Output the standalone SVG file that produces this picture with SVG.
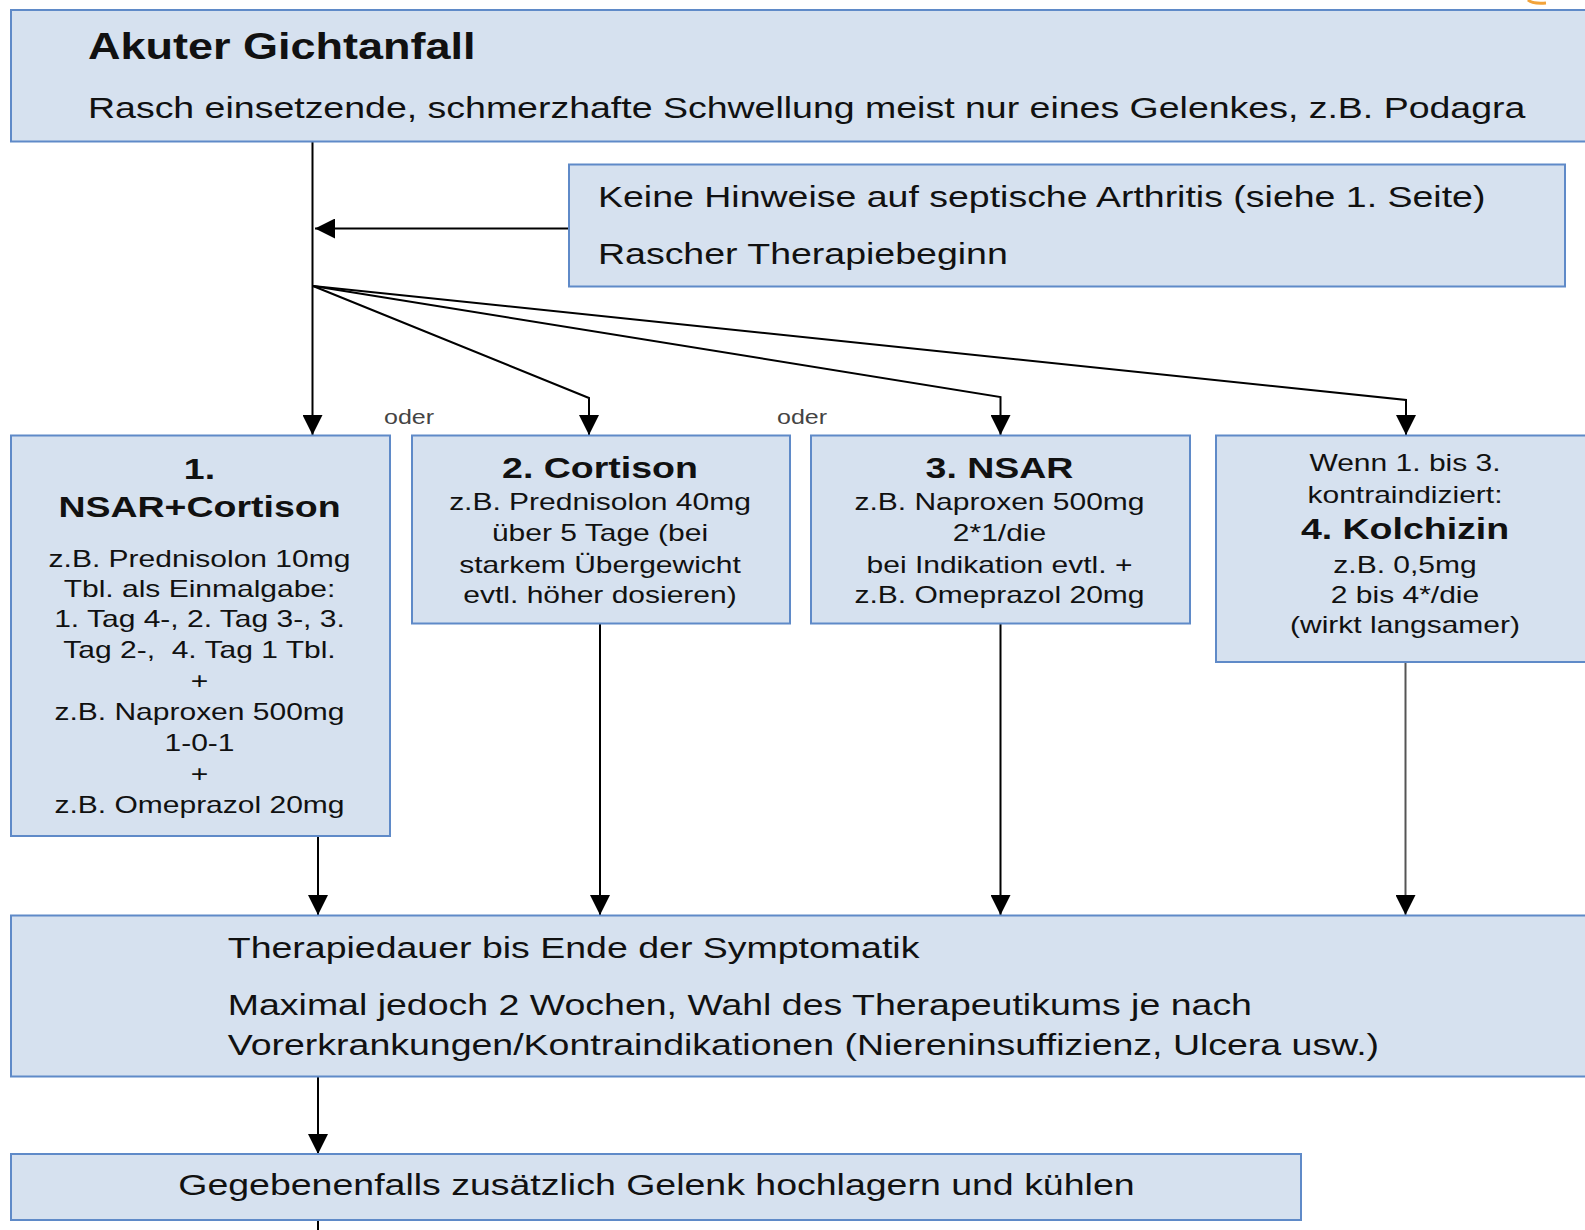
<svg xmlns="http://www.w3.org/2000/svg" width="1585" height="1230" viewBox="0 0 1585 1230">
<style>
.box{fill:#D6E1EF;stroke:#5F8AC8;stroke-width:2}
.t{font-family:"Liberation Sans",Arial,sans-serif;fill:#111}
.r24{font-size:24px}
.r30{font-size:30px}
.b30{font-size:30px;font-weight:bold}
.b36{font-size:36px;font-weight:bold}
.c{text-anchor:middle}
.oder{font-family:"Liberation Sans",Arial,sans-serif;font-size:20px;fill:#444}
.ln{stroke:#000;stroke-width:2;fill:none}
.lg{stroke:#555;stroke-width:2;fill:none}
</style>
<defs>
<marker id="ah" viewBox="0 0 20 20" refX="20" refY="10" markerWidth="20" markerHeight="20" markerUnits="userSpaceOnUse" orient="auto">
<path d="M0,0 L20,10 L0,20 z" fill="#000"/>
</marker>
</defs>
<rect width="1585" height="1230" fill="#fff"/>
<path d="M1528,0 Q1532,4 1546,3" stroke="#F2A33A" stroke-width="3" fill="none"/>

<g id="connectors">
<line class="ln" x1="312.5" y1="142" x2="312.5" y2="435" marker-end="url(#ah)"/>
<line class="ln" x1="569" y1="228.5" x2="315" y2="228.5" marker-end="url(#ah)"/>
<polyline class="ln" points="313,286 589,398 589,435" marker-end="url(#ah)"/>
<polyline class="ln" points="313,286 1000.5,397 1000.5,435" marker-end="url(#ah)"/>
<polyline class="ln" points="313,286 1406,400 1406,435" marker-end="url(#ah)"/>
<line class="ln" x1="318" y1="836" x2="318" y2="915" marker-end="url(#ah)"/>
<line class="ln" x1="600" y1="623.5" x2="600" y2="915" marker-end="url(#ah)"/>
<line class="ln" x1="1000.5" y1="623.5" x2="1000.5" y2="915" marker-end="url(#ah)"/>
<line class="lg" x1="1405.5" y1="662" x2="1405.5" y2="915" marker-end="url(#ah)"/>
<line class="ln" x1="318" y1="1077" x2="318" y2="1154" marker-end="url(#ah)"/>
<line class="ln" x1="318" y1="1220" x2="318" y2="1230"/>
<g transform="scale(1.25 1)">
<text class="oder" x="307.2" y="424.5">oder</text>
<text class="oder" x="621.6" y="424.5">oder</text>
</g>
</g>

<g id="node-gichtanfall">
<rect class="box" x="11" y="10" width="1600" height="131.5"/>
<g transform="scale(1.25 1)">
<text class="t b36" x="70.4" y="59.5">Akuter Gichtanfall</text>
<text class="t r30" x="70.4" y="118">Rasch einsetzende, schmerzhafte Schwellung meist nur eines Gelenkes, z.B. Podagra</text>
</g>
</g>

<g id="node-keine-hinweise">
<rect class="box" x="569" y="164.5" width="996" height="122"/>
<g transform="scale(1.25 1)">
<text class="t r30" x="478.4" y="207.5">Keine Hinweise auf septische Arthritis (siehe 1. Seite)</text>
<text class="t r30" x="478.4" y="264.5">Rascher Therapiebeginn</text>
</g>
</g>

<g id="node-nsar-cortison">
<rect class="box" x="11" y="435.5" width="379" height="400.5"/>
<g transform="scale(1.25 1)" class="t c">
<text class="b30" x="159.6" y="479.3">1.</text>
<text class="b30" x="159.6" y="516.7">NSAR+Cortison</text>
<text class="r24" x="159.6" y="566.7">z.B. Prednisolon 10mg</text>
<text class="r24" x="159.6" y="597">Tbl. als Einmalgabe:</text>
<text class="r24" x="159.6" y="627.5">1. Tag 4-, 2. Tag 3-, 3.</text>
<text class="r24" x="159.6" y="658.3" xml:space="preserve">Tag 2-,  4. Tag 1 Tbl.</text>
<text class="r24" x="159.6" y="689.2">+</text>
<text class="r24" x="159.6" y="720">z.B. Naproxen 500mg</text>
<text class="r24" x="159.6" y="751.5">1-0-1</text>
<text class="r24" x="159.6" y="782.3">+</text>
<text class="r24" x="159.6" y="813.3">z.B. Omeprazol 20mg</text>
</g>
</g>

<g id="node-cortison">
<rect class="box" x="412" y="435.5" width="378" height="188"/>
<g transform="scale(1.25 1)" class="t c">
<text class="b30" x="480" y="478.3">2. Cortison</text>
<text class="r24" x="480" y="510">z.B. Prednisolon 40mg</text>
<text class="r24" x="480" y="541.5">über 5 Tage (bei</text>
<text class="r24" x="480" y="572.7">starkem Übergewicht</text>
<text class="r24" x="480" y="603.3">evtl. höher dosieren)</text>
</g>
</g>

<g id="node-nsar">
<rect class="box" x="811" y="435.5" width="379" height="188"/>
<g transform="scale(1.25 1)" class="t c">
<text class="b30" x="799.6" y="478.3">3. NSAR</text>
<text class="r24" x="799.6" y="510">z.B. Naproxen 500mg</text>
<text class="r24" x="799.6" y="541.5">2*1/die</text>
<text class="r24" x="799.6" y="573">bei Indikation evtl. +</text>
<text class="r24" x="799.6" y="603.3">z.B. Omeprazol 20mg</text>
</g>
</g>

<g id="node-kolchizin">
<rect class="box" x="1216" y="435.5" width="400" height="226.5"/>
<g transform="scale(1.25 1)" class="t c">
<text class="r24" x="1124" y="471.5">Wenn 1. bis 3.</text>
<text class="r24" x="1124" y="503.5">kontraindiziert:</text>
<text class="b30" x="1124" y="539">4. Kolchizin</text>
<text class="r24" x="1124" y="573">z.B. 0,5mg</text>
<text class="r24" x="1124" y="603">2 bis 4*/die</text>
<text class="r24" x="1124" y="633.5">(wirkt langsamer)</text>
</g>
</g>

<g id="node-therapiedauer">
<rect class="box" x="11" y="915.5" width="1600" height="161"/>
<g transform="scale(1.25 1)">
<text class="t r30" x="182.2" y="958.5">Therapiedauer bis Ende der Symptomatik</text>
<text class="t r30" x="182.2" y="1015.5">Maximal jedoch 2 Wochen, Wahl des Therapeutikums je nach</text>
<text class="t r30" x="182.2" y="1055">Vorerkrankungen/Kontraindikationen (Niereninsuffizienz, Ulcera usw.)</text>
</g>
</g>

<g id="node-hochlagern">
<rect class="box" x="11" y="1154" width="1290" height="66"/>
<g transform="scale(1.25 1)">
<text class="t r30" x="142.6" y="1195.5">Gegebenenfalls zusätzlich Gelenk hochlagern und kühlen</text>
</g>
</g>
</svg>
